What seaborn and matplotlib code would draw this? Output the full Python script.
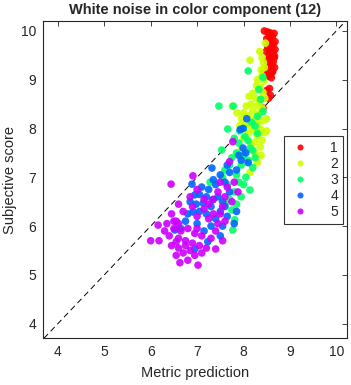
import numpy as np
import pandas as pd
import matplotlib
matplotlib.use("Agg")
import matplotlib.pyplot as plt
import seaborn as sns

# group 1 (red)
g1_x = [8.45, 8.52, 8.58, 8.66, 8.56, 8.62, 8.5, 8.6, 8.68, 8.55, 8.64, 8.52, 8.6, 8.68, 8.57, 8.49,
        8.63, 8.55, 8.67, 8.58, 8.51, 8.64, 8.57, 8.61, 8.5, 8.67, 8.55, 8.63, 8.47, 8.58, 8.53, 8.44,
        8.6, 8.56, 8.5, 8.58, 8.54, 8.42, 8.66, 8.61]
g1_y = [10.0, 9.98, 9.96, 9.95, 9.9, 9.88, 9.84, 9.8, 9.78, 9.75, 9.72, 9.68, 9.65, 9.62, 9.6, 9.58,
        9.55, 9.5, 9.48, 9.44, 9.4, 9.37, 9.33, 9.3, 9.27, 9.25, 9.2, 9.17, 9.13, 9.1, 9.07, 9.18,
        9.04, 8.82, 8.78, 8.68, 8.62, 8.42, 9.45, 9.15]

# group 2 (yellow-green)
g2_x = [8.47, 8.35, 8.14, 8.4, 8.43, 8.45, 8.38, 8.4, 8.3, 8.44, 8.28, 8.36, 8.2, 8.42, 8.12, 8.26,
        8.36, 8.06, 8.16, 8.3, 8.4, 8.0, 8.2, 8.1, 8.34, 7.96, 8.25, 8.05, 8.15, 8.3, 8.42, 7.92,
        8.2, 8.36, 8.1, 8.0, 8.3, 8.45, 8.25, 8.4, 8.16, 8.36, 7.76, 7.86, 8.46, 8.5, 8.3, 8.14,
        8.38, 8.25, 7.95, 8.5]
g2_y = [9.75, 9.58, 9.4, 9.45, 9.35, 9.25, 9.2, 9.08, 9.0, 8.97, 8.88, 8.84, 8.72, 8.74, 8.66, 8.62,
        8.56, 8.46, 8.5, 8.47, 8.42, 8.32, 8.36, 8.26, 8.3, 8.2, 8.2, 8.1, 8.06, 8.12, 8.16, 8.06,
        7.96, 8.0, 7.9, 7.8, 7.86, 7.92, 7.72, 7.76, 7.66, 7.62, 8.46, 8.32, 8.62, 8.2, 7.3, 7.1,
        7.45, 7.5, 7.55, 7.95]

# group 3 (green)
g3_x = [8.1, 8.42, 8.33, 7.47, 7.78, 8.37, 8.42, 8.0, 7.66, 7.53, 8.03, 8.1, 8.25, 8.3, 7.9, 8.2,
        8.0, 7.85, 7.75, 8.1, 7.95, 8.2, 7.7, 7.6, 7.85, 7.28, 8.14, 7.75, 7.81, 7.77, 7.9, 8.05,
        7.65, 7.8, 7.95, 7.7, 7.6, 7.85, 8.0, 7.55, 8.15, 8.25, 8.3, 8.18, 7.92, 7.8]
g3_y = [9.18, 9.05, 8.8, 8.46, 8.46, 8.6, 8.35, 8.0, 7.99, 7.56, 7.83, 7.75, 8.05, 7.9, 7.7, 7.55,
        7.45, 7.5, 7.4, 7.35, 7.25, 7.2, 7.25, 7.15, 7.05, 6.9, 6.74, 6.33, 6.13, 5.92, 6.9, 7.0,
        6.85, 6.7, 6.6, 6.55, 6.45, 6.45, 6.85, 7.0, 7.6, 7.4, 8.25, 8.12, 7.95, 7.8]

# group 4 (blue)
g4_x = [8.07, 7.99, 7.93, 7.99, 8.05, 7.9, 8.1, 7.32, 7.65, 7.7, 7.5, 7.85, 7.95, 6.89, 7.1, 7.25,
        7.4, 7.6, 7.35, 7.05, 6.95, 7.2, 7.45, 7.7, 7.55, 7.13, 6.98, 6.85, 7.3, 7.5, 6.91, 7.05,
        7.2, 7.65, 7.4, 6.75, 7.0, 6.52, 6.65, 7.3, 7.55, 7.8, 7.23, 6.95, 7.5, 7.6, 7.85, 7.35,
        6.8, 7.15]
g4_y = [8.2, 8.0, 7.98, 7.6, 7.5, 7.45, 7.3, 7.19, 7.25, 7.1, 7.05, 7.15, 7.35, 6.86, 6.8, 6.75,
        6.85, 6.9, 6.95, 6.65, 6.64, 6.6, 6.6, 6.7, 6.5, 6.47, 6.45, 6.5, 6.4, 6.3, 6.29, 6.3,
        6.25, 6.2, 6.15, 6.1, 6.05, 5.92, 5.95, 6.0, 6.0, 6.05, 5.68, 5.53, 5.8, 6.4, 6.3, 6.55,
        6.25, 5.9]

# group 5 (magenta)
g5_x = [6.44, 6.16, 6.0, 6.18, 7.02, 6.63, 6.8, 6.55, 6.95, 7.4, 7.55, 7.7, 7.77, 7.88, 7.34, 6.91,
        7.5, 7.65, 7.6, 7.75, 7.15, 6.9, 7.0, 7.25, 7.45, 6.45, 6.55, 6.7, 6.5, 6.65, 6.8, 6.95,
        7.1, 7.3, 6.4, 6.6, 6.75, 6.9, 7.05, 7.2, 6.45, 6.6, 6.85, 7.1, 6.7, 6.5, 6.35, 7.0,
        7.4, 7.6, 7.15, 6.85, 7.5, 7.55, 7.8, 7.35, 6.6, 6.75, 6.55, 7.25, 6.3, 7.45, 7.0, 6.6]
g5_y = [6.86, 6.02, 5.7, 5.7, 5.2, 5.25, 5.3, 5.4, 5.4, 5.53, 5.7, 7.32, 7.73, 6.7, 6.54, 7.03,
        6.9, 6.8, 6.6, 6.5, 6.55, 6.4, 6.2, 6.15, 6.05, 6.25, 6.1, 6.3, 5.95, 5.9, 5.95, 5.85,
        5.8, 5.75, 5.8, 5.75, 5.7, 5.65, 5.6, 5.55, 5.6, 5.55, 5.5, 5.45, 5.45, 6.1, 6.05, 5.95,
        5.9, 6.1, 6.35, 6.6, 6.25, 6.4, 6.9, 6.25, 6.05, 5.6, 5.68, 6.45, 5.9, 6.7, 6.75, 6.45]

groups = ['1', '2', '3', '4', '5']
colors = ['#ff0000', '#ccff00', '#00ff66', '#0066ff', '#cc00ff']

xs = [g1_x, g2_x, g3_x, g4_x, g5_x]
ys = [g1_y, g2_y, g3_y, g4_y, g5_y]
df = pd.concat([pd.DataFrame({'x': x, 'y': y, 'g': g}) for x, y, g in zip(xs, ys, groups)],
               ignore_index=True)

sns.set_style("white")
plt.rcParams['font.family'] = ['Liberation Sans', 'DejaVu Sans']

fig = plt.figure(figsize=(3.51, 3.85), dpi=100)
ax = fig.add_axes([43 / 351, 1 - 338.3 / 385, 304 / 351, 317.6 / 385])

# diagonal reference
ax.axline((4, 4), (10, 10), color='black', linestyle=(0, (6, 4)), linewidth=0.7, zorder=1)

sns.scatterplot(data=df, x='x', y='y', hue='g', palette=dict(zip(groups, colors)),
                s=30, linewidth=0, alpha=0.9, ax=ax, zorder=2)

ax.set_xlim(3.68, 10.23)
ax.set_ylim(3.7, 10.21)
ax.set_xticks(range(4, 11))
ax.set_yticks(range(4, 11))
ax.tick_params(direction='in', length=3.5, width=0.6, top=True, right=True,
               labelsize=10, colors='#262626', pad=5)
for s in ax.spines.values():
    s.set_color('#262626')
    s.set_linewidth(0.8)

ax.set_xlabel('Metric prediction', fontsize=10.5, color='#262626', labelpad=5)
ax.set_ylabel('Subjective score', fontsize=10.5, color='#262626', labelpad=3)
ax.set_title('White noise in color component (12)', fontsize=10.5, fontweight='bold', pad=5)

leg = ax.legend(loc='upper right', bbox_to_anchor=(0.987, 0.637), borderaxespad=0,
                frameon=True, fancybox=False, edgecolor='black', fontsize=10,
                labelspacing=0.15, handletextpad=1.4, borderpad=0.35, handlelength=1.6,
                markerscale=0.8)
leg.get_frame().set_linewidth(0.8)

plt.savefig('out.png', dpi=100)
